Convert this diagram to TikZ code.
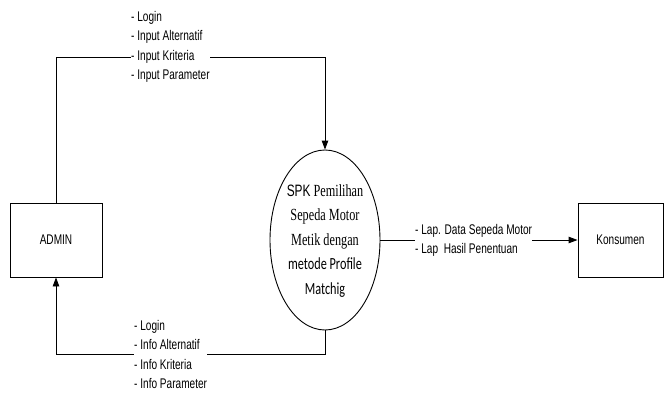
\documentclass[tikz,border=0pt]{standalone}
\usepackage{fontspec}
\setmainfont{Liberation Sans}[FakeStretch=0.72]
\newfontfamily\arialF{Liberation Sans}[FakeStretch=0.72]
\newfontfamily\timesF{Liberation Serif}[FakeStretch=0.72]
\newfontfamily\caliF{Carlito}[FakeStretch=0.72]
\usetikzlibrary{arrows.meta,shapes.geometric}
\begin{document}
\begin{tikzpicture}[x=1pt,y=-1pt,
  every node/.style={font=\fontsize{14}{19.5}\selectfont},
  entity/.style={draw,line width=0.9pt,minimum width=92pt,minimum height=74pt,inner sep=0pt},
  flowlabel/.style={fill=white,align=left,inner sep=0pt,anchor=west},
  flow/.style={line width=0.9pt,-{Triangle[length=9pt,width=6.5pt]}}]
  \useasboundingbox (0,0) rectangle (665,392);

  % external entities
  \node[entity] (admin) at (56,240) {ADMIN};
  \node[entity,minimum width=85pt] (kons) at (620.5,240) {Konsumen};

  % process
  \node[draw,ellipse,line width=0.9pt,minimum width=110pt,minimum height=180pt,inner sep=0pt] (proc) at (325,240) {};
  \node[align=center,font=\fontsize{17}{24.5}\selectfont\timesF] (proctext) at (325,241)
    {{\arialF\fontsize{16.5}{16.5}\selectfont SPK} Pemilihan\\
     Sepeda Motor\\
     Metik dengan\\
     {\caliF metode Profile}\\
     {\caliF Matchig}};

  % data flows
  \coordinate (topc) at (0,57);
  \coordinate (botc) at (0,354);
  \draw[flow] (admin.north) -- (admin.north |- topc) -| (proc.north);
  \draw[flow] (proc.south) -- (proc.south |- botc) -| (admin.south);
  \draw[flow] (proc.east) -- (kons.west);

  % flow labels
  \node[flowlabel] (intext) at (131,47)
    {- Login\\- Input Alternatif\\- Input Kriteria\\- Input Parameter};
  \node[flowlabel] (outtext) at (134,354.5)
    {- Login\\- Info Alternatif\\- Info Kriteria\\- Info Parameter};
  \node[flowlabel] (laptext) at (415,240.5)
    {- Lap. Data Sepeda Motor\\- Lap\ \ Hasil Penentuan};
\end{tikzpicture}
\end{document}
